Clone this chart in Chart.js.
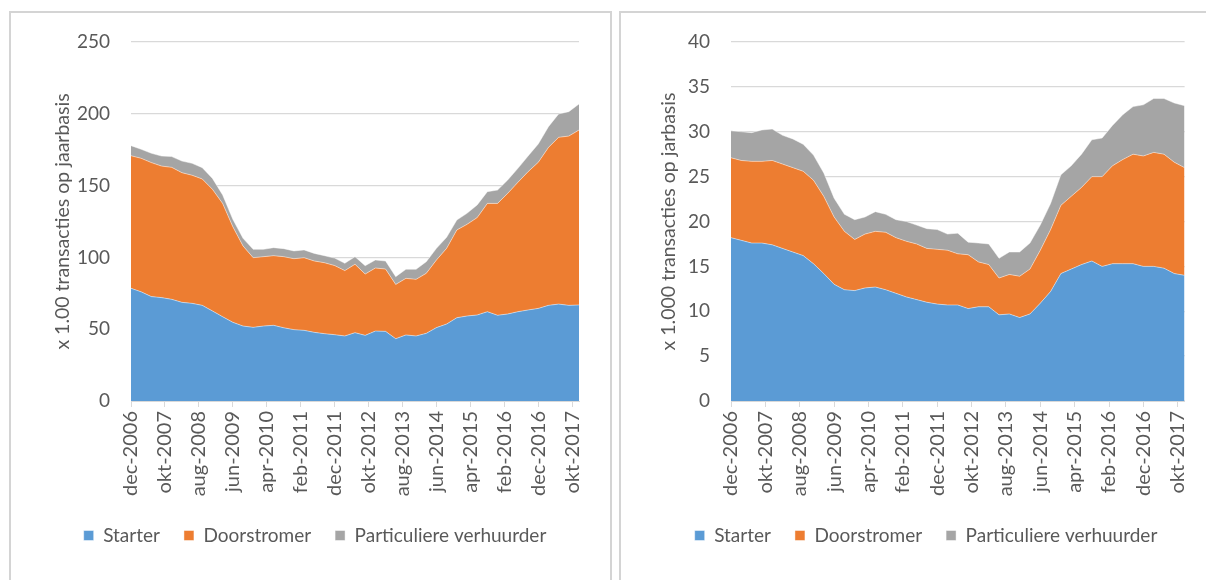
<!DOCTYPE html>
<html>
<head>
<meta charset="utf-8">
<script src="https://cdn.jsdelivr.net/npm/chart.js@4"></script>
<style>
  body { margin: 0; background: #fff; width: 1206px; height: 580px; overflow: hidden; position: relative; }
  .box { position: absolute; top: 11px; height: 620px; border: 2px solid #d4d4d4; box-sizing: border-box; }
  canvas { position: absolute; top: 0; }
</style>
</head>
<body>
<div class="box" style="left:9px; width:603px;"></div>
<div class="box" style="left:619px; width:640px;"></div>
<canvas id="koop" width="612" height="580" style="left:0px"></canvas>
<canvas id="koop2" width="586" height="580" style="left:620px"></canvas>
<script>
// Quarterly observations, dec-2006 .. dec-2017
const quarters = [
  'dec-2006', 'mrt-2007', 'jun-2007', 'sep-2007', 'dec-2007', 'mrt-2008', 'jun-2008', 'sep-2008',
  'dec-2008', 'mrt-2009', 'jun-2009', 'sep-2009', 'dec-2009', 'mrt-2010', 'jun-2010', 'sep-2010',
  'dec-2010', 'mrt-2011', 'jun-2011', 'sep-2011', 'dec-2011', 'mrt-2012', 'jun-2012', 'sep-2012',
  'dec-2012', 'mrt-2013', 'jun-2013', 'sep-2013', 'dec-2013', 'mrt-2014', 'jun-2014', 'sep-2014',
  'dec-2014', 'mrt-2015', 'jun-2015', 'sep-2015', 'dec-2015', 'mrt-2016', 'jun-2016', 'sep-2016',
  'dec-2016', 'mrt-2017', 'jun-2017', 'sep-2017', 'dec-2017'
];

// Axis labels, one every 10 months
const tickLabels = [
  'dec-2006', 'okt-2007', 'aug-2008', 'jun-2009', 'apr-2010', 'feb-2011', 'dec-2011',
  'okt-2012', 'aug-2013', 'jun-2014', 'apr-2015', 'feb-2016', 'dec-2016', 'okt-2017'
];

const seriesNames = ['Starter', 'Doorstromer', 'Particuliere verhuurder'];
const seriesColors = ['#5B9BD5', '#ED7D31', '#A5A5A5'];

// Left chart (x 1.00 transacties)
const starterLeft = [78.5, 76.0, 72.7, 72.0, 70.8, 68.7, 68.0, 66.6, 62.7, 58.7, 54.8, 52.2, 51.3, 52.2, 52.7,
  51.0, 49.7, 49.2, 47.8, 46.9, 46.2, 45.3, 47.6, 45.7, 48.7, 48.5, 43.4, 46.0, 45.3, 47.1, 51.1, 53.6, 58.0,
  59.2, 59.9, 62.2, 59.7, 60.6, 62.2, 63.4, 64.5, 66.6, 67.5, 66.6, 66.9];
const doorstromerLeft = [92.3, 93.0, 93.3, 91.6, 91.9, 90.3, 89.2, 88.0, 84.7, 78.9, 66.6, 55.8, 48.5, 48.3, 48.5,
  49.5, 49.4, 50.6, 49.7, 49.4, 48.1, 45.5, 47.6, 42.7, 43.9, 43.4, 37.8, 39.4, 39.4, 41.8, 47.1, 52.7, 61.1,
  63.8, 67.8, 75.4, 77.9, 84.0, 90.1, 96.3, 101.7, 110.0, 116.1, 117.9, 121.8];
const verhuurderLeft = [7.0, 6.3, 6.5, 7.0, 7.5, 8.1, 8.3, 7.9, 7.6, 5.9, 5.1, 5.3, 5.8, 5.1, 5.6,
  5.6, 5.4, 5.4, 5.3, 4.9, 5.2, 5.1, 5.3, 5.8, 5.6, 5.6, 5.4, 6.3, 7.0, 8.1, 8.1, 7.7, 6.9,
  7.7, 8.8, 8.2, 9.3, 9.3, 9.7, 10.9, 12.8, 14.4, 16.3, 17.0, 18.1];

// Right chart (x 1.000 transacties)
const starterRight = [18.2, 17.9, 17.6, 17.6, 17.4, 17.0, 16.6, 16.2, 15.3, 14.2, 13.0, 12.4, 12.3, 12.6, 12.7,
  12.4, 12.0, 11.6, 11.3, 11.0, 10.8, 10.7, 10.7, 10.3, 10.5, 10.5, 9.6, 9.7, 9.3, 9.7, 10.9, 12.2, 14.2,
  14.7, 15.2, 15.6, 15.0, 15.3, 15.3, 15.3, 15.0, 15.0, 14.8, 14.2, 14.0];
const doorstromerRight = [8.9, 8.9, 9.1, 9.1, 9.4, 9.4, 9.4, 9.4, 9.3, 8.6, 7.5, 6.5, 5.7, 6.0, 6.2,
  6.4, 6.2, 6.2, 6.2, 6.0, 6.1, 6.1, 5.7, 6.0, 5.0, 4.7, 4.1, 4.4, 4.6, 5.0, 5.9, 6.9, 7.6,
  8.1, 8.6, 9.4, 10.0, 10.9, 11.6, 12.2, 12.3, 12.7, 12.7, 12.4, 12.0];
const verhuurderRight = [3.0, 3.2, 3.2, 3.5, 3.5, 3.2, 3.2, 3.0, 2.8, 2.6, 2.1, 1.9, 2.2, 1.9, 2.2,
  2.0, 2.0, 2.2, 2.1, 2.2, 2.2, 1.8, 2.3, 1.4, 2.1, 2.3, 2.2, 2.5, 2.7, 2.9, 2.8, 2.9, 3.4,
  3.4, 3.7, 4.1, 4.3, 4.5, 5.0, 5.3, 5.7, 6.0, 6.2, 6.6, 6.9];

const textColor = '#595959';
const fontFamily = 'Lato, "Open Sans", sans-serif';

// quarter i lies 3*i months after dec-2006
function toPoints(values) {
  return values.map((v, i) => ({ x: i * 3, y: v }));
}

function makeChart(id, lists, yMax, yStep, yTitle, layout) {
  const datasets = lists.map((values, i) => ({
    label: seriesNames[i],
    data: toPoints(values),
    backgroundColor: seriesColors[i],
    borderColor: 'rgba(255,255,255,0.45)',
    borderWidth: 1,
    pointRadius: 0,
    tension: 0,
    fill: i === 0 ? 'origin' : '-1'
  }));

  return new Chart(document.getElementById(id).getContext('2d'), {
    type: 'line',
    data: { datasets: datasets },
    options: {
      responsive: false,
      animation: false,
      layout: { padding: { left: layout.padLeft, right: layout.padRight, top: 42, bottom: 25 } },
      plugins: {
        tooltip: { enabled: false },
        legend: {
          position: 'bottom',
          labels: { boxWidth: 10, boxHeight: 10, padding: 24, color: textColor, font: { family: fontFamily, size: 19 } }
        }
      },
      scales: {
        x: {
          type: 'linear',
          min: 0,
          max: 132,
          afterFit: scale => { scale.height = 101; },
          border: { display: true, color: '#D9D9D9', width: 1 },
          grid: { drawOnChartArea: false, drawTicks: true, tickLength: 6, color: '#D9D9D9' },
          ticks: {
            stepSize: 10,
            includeBounds: false,
            autoSkip: false,
            minRotation: 90,
            maxRotation: 90,
            padding: 4,
            color: textColor,
            font: { family: fontFamily, size: 20 },
            callback: v => tickLabels[v / 10]
          }
        },
        y: {
          stacked: true,
          min: 0,
          max: yMax,
          afterFit: scale => { scale.width = layout.yWidth; },
          border: { display: false },
          grid: { drawTicks: false, color: '#D9D9D9', lineWidth: 1.3 },
          ticks: { stepSize: yStep, padding: 21, color: textColor, font: { family: fontFamily, size: 19 } },
          title: {
            display: true,
            text: yTitle,
            color: textColor,
            padding: { top: layout.titlePad, bottom: 0 },
            font: { family: fontFamily, size: 19.5, lineHeight: layout.titleLine }
          }
        }
      }
    }
  });
}

makeChart('koop', [starterLeft, doorstromerLeft, verhuurderLeft], 250, 50,
  'x 1.00 transacties op jaarbasis', { padLeft: 51, padRight: 33, yWidth: 80, titlePad: 0, titleLine: 1.2 });
makeChart('koop2', [starterRight, doorstromerRight, verhuurderRight], 40, 5,
  'x 1.000 transacties op jarbasis', { padLeft: 43, padRight: 17, yWidth: 68, titlePad: 0, titleLine: 0.6 });
</script>
</body>
</html>
